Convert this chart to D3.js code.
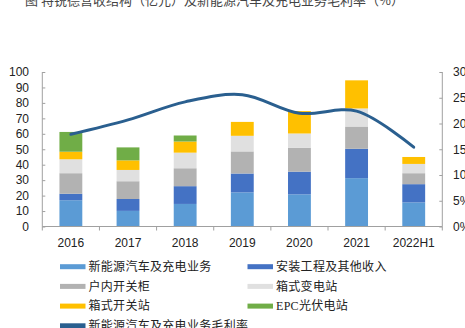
<!DOCTYPE html>
<html><head><meta charset="utf-8">
<script src="https://cdn.jsdelivr.net/npm/d3@7"></script>
<style>html,body{margin:0;padding:0;background:#fff;overflow:hidden}</style>
</head><body>
<script>
const categories = ["2016","2017","2018","2019","2020","2021","2022H1"];
const seriesNames = ["新能源汽车及充电业务","安装工程及其他收入","户内开关柜","箱式变电站","箱式开关站","EPC光伏电站"];
const nevCharging   = [17.0, 10.1, 14.6, 22.1, 20.8, 31.3, 15.6];
const installOther  = [4.2, 7.7, 11.5, 12.2, 14.7, 19.0, 11.8];
const indoorSwitch  = [13.3, 11.5, 11.6, 14.3, 15.5, 14.4, 7.1];
const boxSubstation = [9.0, 7.3, 10.1, 10.1, 9.2, 11.7, 6.0];
const boxSwitch     = [4.9, 6.2, 7.2, 9.0, 14.5, 18.2, 4.5];
const epcPV         = [12.8, 8.4, 3.9, 0, 0, 0, 0];
const grossMargin   = [0.179, 0.207, 0.242, 0.256, 0.220, 0.224, 0.154];
const lineName = "新能源汽车及充电业务毛利率";
const leftTicks = [0,10,20,30,40,50,60,70,80,90,100];
const rightTicks = [0,0.05,0.10,0.15,0.20,0.25,0.30];
const title = "图 特锐德营收结构（亿元）及新能源汽车及充电业务毛利率（%）";

const colors = ["#5B9BD5","#4472C4","#B2B2B2","#E0E0E0","#FFC000","#70AD47"];
const lineColor = "#2A5F8F";
const allSeries = [nevCharging, installOther, indoorSwitch, boxSubstation, boxSwitch, epcPV];

const W = 465, H = 328;
const svg = d3.select("body").append("svg").attr("width", W).attr("height", H)
  .style("font-family", "'Liberation Sans', Arial, sans-serif");

const pLeft = 42.3, pRight = 442.3, pTop = 72, pBottom = 226.5;
const x = d3.scaleBand().domain(categories).range([pLeft, pRight]).paddingInner(0.6).paddingOuter(0.3);
const y = d3.scaleLinear().domain([0,100]).range([pBottom, pTop]);
const y2 = d3.scaleLinear().domain([0,0.30]).range([pBottom, pTop]);

// title (clipped at top)
svg.append("text").attr("x", 25).attr("y", 5).attr("font-size", 13)
  .attr("font-family", "'Noto Sans CJK SC', sans-serif").attr("fill", "#444").text(title);

// stacked data
const rows = categories.map((c,i) => {
  const r = {cat: c};
  seriesNames.forEach((s,k) => r[s] = allSeries[k][i]);
  return r;
});
const stack = d3.stack().keys(seriesNames)(rows);

svg.append("g").selectAll("g").data(stack).join("g")
  .attr("fill", (d,i) => colors[i])
  .selectAll("rect").data(d => d).join("rect")
  .attr("x", d => x(d.data.cat))
  .attr("width", x.bandwidth())
  .attr("y", d => y(d[1]))
  .attr("height", d => Math.max(0, y(d[0]) - y(d[1])));

// axes
const axisColor = "#A0A0A0";
const gl = svg.append("g").attr("transform", `translate(${pLeft},0)`)
  .call(d3.axisRight(y).tickValues(leftTicks).tickSize(3).tickFormat(""));
gl.selectAll("line, path").attr("stroke", axisColor);
gl.select(".domain").attr("d", `M0,${pTop}V${pBottom}`);
svg.append("g").selectAll("text").data(leftTicks).join("text")
  .attr("x", 29).attr("y", d => y(d)).attr("dy", "0.36em").attr("text-anchor", "end")
  .attr("font-size", 12).attr("fill", "#222").text(d => d);

const gr = svg.append("g").attr("transform", `translate(${pRight},0)`)
  .call(d3.axisLeft(y2).tickValues(rightTicks).tickSize(3).tickFormat(""));
gr.selectAll("line, path").attr("stroke", axisColor);
gr.select(".domain").attr("d", `M0,${pTop}V${pBottom}`);
svg.append("g").selectAll("text").data(rightTicks).join("text")
  .attr("x", 453).attr("y", d => y2(d)).attr("dy", "0.36em").attr("text-anchor", "start")
  .attr("font-size", 12).attr("fill", "#222").text(d => d3.format(".0%")(d));

// bottom axis
const gb = svg.append("g");
gb.append("line").attr("x1", pLeft).attr("x2", pRight).attr("y1", pBottom).attr("y2", pBottom).attr("stroke", axisColor);
const step = x.step();
const bounds = d3.range(categories.length + 1).map(i => pLeft + i * step);
gb.selectAll("line.t").data(bounds).join("line").attr("class","t")
  .attr("x1", d => d).attr("x2", d => d).attr("y1", pBottom).attr("y2", pBottom + 4).attr("stroke", axisColor);
gb.selectAll("text").data(categories).join("text")
  .attr("x", d => x(d) + x.bandwidth()/2).attr("y", 247).attr("text-anchor", "middle")
  .attr("font-size", 12).attr("fill", "#222").text(d => d);

// line
const line = d3.line().x((d,i) => x(categories[i]) + x.bandwidth()/2).y(d => y2(d))
  .curve(d3.curveCatmullRom.alpha(0.5));
svg.append("path").datum(grossMargin).attr("d", line).attr("fill", "none")
  .attr("stroke", lineColor).attr("stroke-width", 3).attr("stroke-linecap", "round");

// legend
const legendItems = seriesNames.map((s,i) => ({name: s, color: colors[i], type: "bar"}))
  .concat([{name: lineName, color: lineColor, type: "line"}]);
const lg = svg.append("g").style("font-family", "'Liberation Serif', 'Noto Sans CJK SC', serif");
legendItems.forEach((it, i) => {
  const col = i % 2, row = Math.floor(i / 2);
  const lx = col === 0 ? 60 : 247.5;
  const ly = 266.7 + row * 19.7;
  lg.append("rect").attr("x", lx).attr("y", ly - 2.5)
    .attr("width", 25.5).attr("height", 5).attr("fill", it.color);
  lg.append("text").attr("x", lx + 28.5).attr("y", ly).attr("dy", "0.36em")
    .attr("font-size", 12).attr("fill", "#222").style("letter-spacing", "0.3px").text(it.name);
});
</script>
</body></html>
